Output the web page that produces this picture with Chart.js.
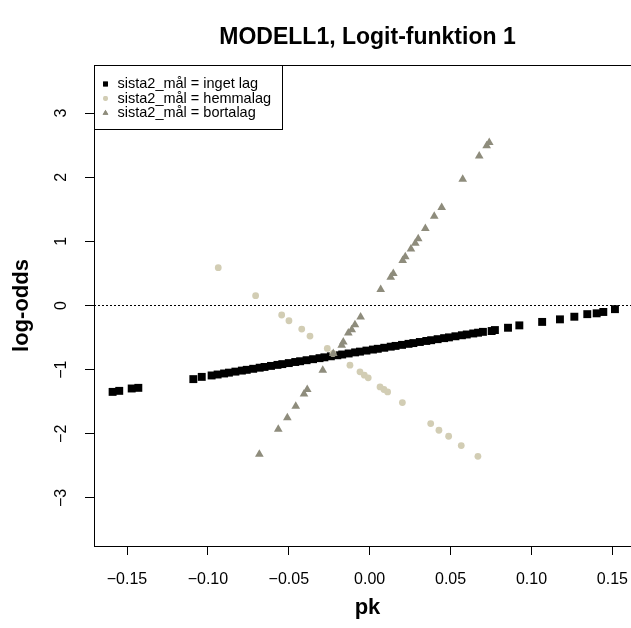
<!DOCTYPE html>
<html>
<head>
<meta charset="utf-8">
<script src="https://cdn.jsdelivr.net/npm/chart.js@4"></script>
<style>
  html, body { margin: 0; padding: 0; background: #fff; overflow: hidden; }
</style>
</head>
<body>
<canvas id="chart" width="660" height="628"></canvas>
<script>
// sista2_mål = inget lag (black squares)
const ingetX = [-0.1589, -0.1548, -0.1471, -0.1430, -0.1090, -0.1038,
  -0.0977, -0.094, -0.090, -0.087, -0.083, -0.079, -0.076, -0.072, -0.068, -0.065,
  -0.061, -0.057, -0.054, -0.050, -0.046, -0.043, -0.039, -0.035, -0.031, -0.028,
  -0.024, -0.020, -0.017, -0.013, -0.009, -0.006, -0.002, 0.002, 0.005, 0.009,
  0.013, 0.016, 0.020, 0.024, 0.027, 0.031, 0.035, 0.038, 0.042, 0.046, 0.049,
  0.053, 0.057, 0.060, 0.064, 0.067, 0.070,
  0.0754, 0.0774, 0.0855, 0.0925, 0.1066, 0.1176, 0.1265, 0.1345, 0.1403, 0.1444, 0.1516];
const ingetY = [-1.347, -1.331, -1.294, -1.284, -1.148, -1.113,
  -1.091, -1.076, -1.060, -1.047, -1.031, -1.015, -1.003, -0.987, -0.970, -0.958,
  -0.942, -0.926, -0.914, -0.898, -0.881, -0.869, -0.853, -0.837, -0.821, -0.808,
  -0.792, -0.776, -0.764, -0.748, -0.731, -0.719, -0.703, -0.687, -0.675, -0.659,
  -0.642, -0.630, -0.614, -0.598, -0.586, -0.569, -0.553, -0.541, -0.525, -0.509, -0.497,
  -0.480, -0.464, -0.452, -0.436, -0.424, -0.411,
  -0.398, -0.383, -0.347, -0.310, -0.256, -0.216, -0.175, -0.135, -0.122, -0.101, -0.057];

// sista2_mål = hemmalag (beige circles)
const hemmaX = [-0.0936, -0.0705, -0.0544, -0.0499, -0.0420, -0.0369, -0.0262, -0.0227,
  -0.0122, -0.0060, -0.0033, -0.0009, 0.0064, 0.0088, 0.0111, 0.0202, 0.0377, 0.0428,
  0.0488, 0.0566, 0.0669];
const hemmaY = [0.59, 0.153, -0.148, -0.238, -0.367, -0.477, -0.669, -0.747,
  -0.93, -1.034, -1.086, -1.128, -1.269, -1.31, -1.347, -1.513, -1.841, -1.945,
  -2.039, -2.184, -2.352];

// sista2_mål = bortalag (grey triangles)
const bortaX = [-0.0682, -0.0565, -0.0509, -0.0457, -0.0406, -0.0386, -0.0290, -0.0225,
  -0.0173, -0.0163, -0.0132, -0.0111, -0.0091, -0.0056, 0.0068, 0.0130, 0.0146, 0.0204,
  0.0220, 0.0255, 0.0282, 0.0300, 0.0344, 0.0399, 0.0445, 0.0575, 0.0677, 0.0723, 0.0739];
const bortaY = [-2.32, -1.93, -1.75, -1.57, -1.38, -1.31, -1.01, -0.75,
  -0.62, -0.57, -0.43, -0.38, -0.30, -0.18, 0.25, 0.44, 0.50, 0.70,
  0.76, 0.88, 0.97, 1.04, 1.20, 1.39, 1.53, 1.97, 2.33, 2.49, 2.54];

const xTicks = [-0.15, -0.10, -0.05, 0.00, 0.05, 0.10, 0.15];
const yTicks = [-3, -2, -1, 0, 1, 2, 3];
const xMin = -0.1704, xMax = 0.1677;
const yMin = -3.75, yMax = 3.75;

const minus = s => s.replace('-', '\u2212');
const toPoints = (xs, ys) => xs.map((x, i) => ({ x: x, y: ys[i] }));

Chart.defaults.font.family = '"Liberation Sans", Arial, sans-serif';
Chart.defaults.color = '#000';

// box round the plot region + legend in the top-left corner, like R
const boxAndLegend = {
  id: 'boxAndLegend',
  afterDatasetsDraw(chart) {
    const { ctx, chartArea: a } = chart;
    ctx.save();
    ctx.strokeStyle = '#000';
    ctx.lineWidth = 1;
    ctx.strokeRect(Math.round(a.left) + 0.5, Math.round(a.top) + 0.5, a.right - a.left, a.bottom - a.top);

    const lx = Math.round(a.left) + 0.5, ly = Math.round(a.top) + 0.5;
    ctx.fillStyle = '#fff';
    ctx.fillRect(lx, ly, 188, 64);
    ctx.strokeRect(lx, ly, 188, 64);
    ctx.font = '14.5px "Liberation Sans", Arial, sans-serif';
    ctx.textBaseline = 'middle';
    const rows = [18.5, 33, 47.5];
    chart.data.datasets.filter(d => d.inLegend).forEach((d, i) => {
      const y = ly + rows[i];
      ctx.fillStyle = d.backgroundColor;
      Chart.helpers.drawPoint(ctx, { pointStyle: d.pointStyle, radius: d.legendRadius, borderWidth: 0 }, lx + 11, y);
      ctx.fill();
      ctx.fillStyle = '#000';
      ctx.fillText(d.label, lx + 23, y);
    });
    ctx.restore();
  }
};

new Chart(document.getElementById('chart'), {
  type: 'scatter',
  data: {
    datasets: [
      {
        label: 'sista2_mål = inget lag',
        data: toPoints(ingetX, ingetY),
        pointStyle: 'rect', pointRadius: 5.6, legendRadius: 3.4,
        backgroundColor: '#000', borderWidth: 0,
        inLegend: true, order: 3
      },
      {
        label: 'sista2_mål = hemmalag',
        data: toPoints(hemmaX, hemmaY),
        pointStyle: 'circle', pointRadius: 3.4, legendRadius: 2.4,
        backgroundColor: '#d2cdb4', borderWidth: 0,
        inLegend: true, order: 2
      },
      {
        label: 'sista2_mål = bortalag',
        data: toPoints(bortaX, bortaY),
        pointStyle: 'triangle', pointRadius: 5, legendRadius: 3.3,
        backgroundColor: '#8e8c7c', borderWidth: 0,
        inLegend: true, order: 1
      },
      {
        type: 'line',
        label: 'zero',
        data: [{ x: xMin, y: 0 }, { x: xMax, y: 0 }],
        borderColor: '#000', borderWidth: 1, borderDash: [2, 2],
        pointRadius: 0, order: 0
      }
    ]
  },
  options: {
    responsive: false,
    animation: false,
    devicePixelRatio: 1,
    layout: { padding: { left: 0, right: 19, top: 0, bottom: 0 } },
    plugins: {
      legend: { display: false },
      tooltip: { enabled: false },
      title: {
        display: true,
        fullSize: false,
        text: 'MODELL1, Logit-funktion 1',
        font: { size: 23, weight: 'bold' },
        color: '#000',
        padding: { top: 24, bottom: 13.4 }
      }
    },
    scales: {
      x: {
        type: 'linear',
        min: xMin, max: xMax,
        afterFit: s => { s.height = 82; },
        afterBuildTicks: s => { s.ticks = xTicks.map(v => ({ value: v })); },
        grid: { display: true, drawOnChartArea: false, drawTicks: true, tickLength: 9, color: '#000' },
        border: { display: true, color: '#000' },
        ticks: {
          autoSkip: false, maxRotation: 0, padding: 15,
          font: { size: 16 },
          callback: v => minus(v.toFixed(2))
        },
        title: { display: true, text: 'pk', font: { size: 22, weight: 'bold' }, padding: { top: 0, bottom: 7 } }
      },
      y: {
        type: 'linear',
        min: yMin, max: yMax,
        afterFit: s => { s.width = 94; },
        afterBuildTicks: s => { s.ticks = yTicks.map(v => ({ value: v })); },
        grid: { display: true, drawOnChartArea: false, drawTicks: true, tickLength: 9, color: '#000' },
        border: { display: true, color: '#000' },
        ticks: {
          autoSkip: false, minRotation: 90, maxRotation: 90, crossAlign: 'center', padding: 14,
          font: { size: 16 },
          callback: v => minus(String(v))
        },
        title: { display: true, text: 'log-odds', font: { size: 22, weight: 'bold' }, padding: { top: 8.5, bottom: 0 } }
      }
    }
  },
  plugins: [boxAndLegend]
});
</script>
</body>
</html>
